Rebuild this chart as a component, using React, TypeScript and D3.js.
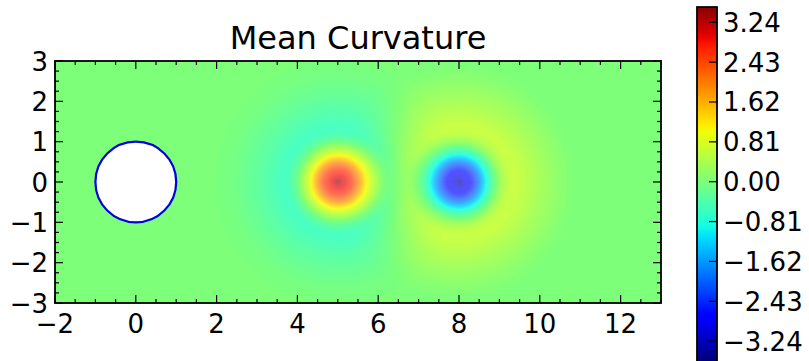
import React, { useMemo } from 'react';
import * as d3 from 'd3';

// ---- data ----
const TITLE = 'Mean Curvature';
const X_DOMAIN = [-2, 13];
const Y_DOMAIN = [-3, 3];
const X_TICKS = [-2, 0, 2, 4, 6, 8, 10, 12];
const Y_TICKS = [-3, -2, -1, 0, 1, 2, 3];
const CBAR_TICKS = [3.24, 2.43, 1.62, 0.81, 0, -0.81, -1.62, -2.43, -3.24];
const CBAR_DOMAIN = [-3.66, 3.55];
const COLOR_RANGE = [-3.6, 3.6];

// two curvature sources (centres) with their radial profiles
const SOURCE_X = [5, 8];
const SOURCE_Y = [0, 0];
const PROFILE_R = [0, 0.1, 0.2, 0.3, 0.4, 0.5, 0.6, 0.7, 0.8, 0.9, 1.0, 1.15, 1.3, 1.5, 1.8, 2.2, 2.6, 3.0];
const PROFILE_POS = [3.5, 3.0, 2.85, 2.65, 2.3, 1.8, 1.3, 0.85, 0.5, 0.2, -0.1, -0.42, -0.58, -0.52, -0.36, -0.2, -0.07, 0];
const PROFILE_NEG = [-3.5, -3.0, -2.85, -2.65, -2.3, -1.8, -1.3, -0.8, -0.4, -0.05, 0.22, 0.5, 0.64, 0.6, 0.45, 0.26, 0.1, 0];

// obstacle (white disc)
const OBSTACLE_X = [0];
const OBSTACLE_Y = [0];
const OBSTACLE_R = [1];

// ---- layout ----
const W = 809;
const H = 361;
const PL = 55, PR = 661, PT = 61, PB = 303;
const CB_X0 = 697, CB_X1 = 717;
const CB_ZERO = 181.7, CB_PX = 49.2;

// jet colormap (matplotlib segment data)
const seg = (pts: number[][], t: number) => {
  for (let i = 1; i < pts.length; i++) {
    if (t <= pts[i][0]) {
      const [x0, y0] = pts[i - 1];
      const [x1, y1] = pts[i];
      return y0 + ((t - x0) / (x1 - x0)) * (y1 - y0);
    }
  }
  return pts[pts.length - 1][1];
};
const RED = [[0, 0], [0.35, 0], [0.66, 1], [0.89, 1], [1, 0.5]];
const GREEN = [[0, 0], [0.125, 0], [0.375, 1], [0.64, 1], [0.91, 0], [1, 0]];
const BLUE = [[0, 0.5], [0.11, 1], [0.34, 1], [0.65, 0], [1, 0]];
const norm = d3.scaleLinear().domain(COLOR_RANGE).range([0, 1]).clamp(true);
const jet = (v: number, wash = 0) => {
  const t = norm(v);
  const f = wash;
  const c = [seg(RED, t), seg(GREEN, t), seg(BLUE, t)].map((x) => Math.round(255 * (x * (1 - f) + f)));
  return `rgb(${c[0]},${c[1]},${c[2]})`;
};

const fmtAxis = (d: number) => (d < 0 ? '\u2212' + Math.abs(d) : String(d));
const fmtBar = (d: number) => (d < 0 ? '\u2212' + Math.abs(d).toFixed(2) : d.toFixed(2));

export default function App() {
  const x = d3.scaleLinear().domain(X_DOMAIN).range([PL, PR]);
  const y = d3.scaleLinear().domain(Y_DOMAIN).range([PB, PT]);
  const cb = d3.scaleLinear().domain([0, 1]).range([CB_ZERO, CB_ZERO - CB_PX]);

  const bands = useMemo(() => {
    const pos = d3.scaleLinear().domain(PROFILE_R).range(PROFILE_POS).clamp(true);
    const neg = d3.scaleLinear().domain(PROFILE_R).range(PROFILE_NEG).clamp(true);
    const dx = 0.05;
    const nx = Math.round((X_DOMAIN[1] - X_DOMAIN[0]) / dx);
    const ny = Math.round((Y_DOMAIN[1] - Y_DOMAIN[0]) / dx);
    const values = new Array(nx * ny);
    for (let j = 0; j < ny; j++) {
      const yy = Y_DOMAIN[1] - (j + 0.5) * dx;
      for (let i = 0; i < nx; i++) {
        const xx = X_DOMAIN[0] + (i + 0.5) * dx;
        const r0 = Math.hypot(xx - SOURCE_X[0], yy - SOURCE_Y[0]);
        const r1 = Math.hypot(xx - SOURCE_X[1], yy - SOURCE_Y[1]);
        values[j * nx + i] = pos(r0) + neg(r1);
      }
    }
    const step = 0.04;
    const thresholds = d3.range(COLOR_RANGE[0] - 0.2, COLOR_RANGE[1] + 0.01, step);
    const contours = d3.contours().size([nx, ny]).thresholds(thresholds)(values);
    const sx = (PR - PL) / nx;
    const sy = (PB - PT) / ny;
    const proj = d3.geoTransform({
      point(px: number, py: number) {
        (this as any).stream.point(PL + px * sx, PT + py * sy);
      },
    });
    const path = d3.geoPath(proj);
    return contours
      .filter((c) => c.coordinates.length > 0)
      .map((c) => {
        const v = c.value + step / 2;
        const wash = 0.32 * Math.min(1, Math.abs(v) / 2.2);
        return { d: path(c as any) || '', fill: jet(v, wash), key: c.value };
      });
  }, []);

  const gradStops = useMemo(() => {
    const n = 80;
    return d3.range(n + 1).map((k) => {
      const v = CBAR_DOMAIN[1] - (k / n) * (CBAR_DOMAIN[1] - CBAR_DOMAIN[0]);
      return { offset: `${(k / n) * 100}%`, color: jet(v) };
    });
  }, []);

  const xMinor = d3.range(X_DOMAIN[0], X_DOMAIN[1] + 0.001, 0.5).filter((v) => !X_TICKS.includes(v));
  const yMinor = d3.range(Y_DOMAIN[0], Y_DOMAIN[1] + 0.001, 0.25).filter((v) => !Y_TICKS.includes(v));
  const font = 'DejaVu Sans, sans-serif';
  const majL = 8, minL = 4;

  return (
    <svg width={W} height={H} style={{ position: 'absolute', left: 0, top: 0, background: '#fff' }}>
      <defs>
        <clipPath id="plotClip">
          <rect x={PL} y={PT} width={PR - PL} height={PB - PT} />
        </clipPath>
        <linearGradient id="cbGrad" x1="0" y1="0" x2="0" y2="1">
          {gradStops.map((s, i) => (
            <stop key={i} offset={s.offset} stopColor={s.color} />
          ))}
        </linearGradient>
      </defs>
      <rect width={W} height={H} fill="#fff" />
      <g clipPath="url(#plotClip)">
        {bands.map((b) => (
          <path key={b.key} d={b.d} fill={b.fill} stroke={b.fill} strokeWidth={0.3} />
        ))}
        {OBSTACLE_X.map((ox, i) => (
          <ellipse
            key={i}
            cx={x(ox)}
            cy={y(OBSTACLE_Y[i])}
            rx={x(ox + OBSTACLE_R[i]) - x(ox)}
            ry={y(OBSTACLE_Y[i]) - y(OBSTACLE_Y[i] + OBSTACLE_R[i])}
            fill="#fff"
            stroke="#0000e0"
            strokeWidth={2.2}
          />
        ))}
      </g>
      {/* ticks */}
      <g stroke="#000" strokeWidth={1.2}>
        {X_TICKS.map((t) => (
          <g key={'xt' + t}>
            <line x1={x(t)} x2={x(t)} y1={PB} y2={PB - majL} />
            <line x1={x(t)} x2={x(t)} y1={PT} y2={PT + majL} />
          </g>
        ))}
        {xMinor.map((t) => (
          <g key={'xm' + t}>
            <line x1={x(t)} x2={x(t)} y1={PB} y2={PB - minL} />
            <line x1={x(t)} x2={x(t)} y1={PT} y2={PT + minL} />
          </g>
        ))}
        {Y_TICKS.map((t) => (
          <g key={'yt' + t}>
            <line x1={PL} x2={PL + majL} y1={y(t)} y2={y(t)} />
            <line x1={PR} x2={PR - majL} y1={y(t)} y2={y(t)} />
          </g>
        ))}
        {yMinor.map((t) => (
          <g key={'ym' + t}>
            <line x1={PL} x2={PL + minL} y1={y(t)} y2={y(t)} />
            <line x1={PR} x2={PR - minL} y1={y(t)} y2={y(t)} />
          </g>
        ))}
      </g>
      <rect x={PL} y={PT} width={PR - PL} height={PB - PT} fill="none" stroke="#000" strokeWidth={1.8} />
      {/* tick labels */}
      <g fontFamily={font} fontSize={26} fill="#000">
        {X_TICKS.map((t) => (
          <text key={'xl' + t} x={x(t)} y={333} textAnchor="middle">
            {fmtAxis(t)}
          </text>
        ))}
        {Y_TICKS.map((t) => (
          <text key={'yl' + t} x={48} y={y(t) + 9.5} textAnchor="end">
            {fmtAxis(t)}
          </text>
        ))}
      </g>
      <text x={(PL + PR) / 2} y={49} textAnchor="middle" fontFamily={font} fontSize={32} fill="#000">
        {TITLE}
      </text>
      {/* colorbar */}
      <rect
        x={CB_X0}
        y={cb(CBAR_DOMAIN[1])}
        width={CB_X1 - CB_X0}
        height={cb(CBAR_DOMAIN[0]) - cb(CBAR_DOMAIN[1])}
        fill="url(#cbGrad)"
        stroke="#000"
        strokeWidth={1.8}
      />
      <g stroke="#000" strokeWidth={1.2}>
        {CBAR_TICKS.map((t) => (
          <line key={'ct' + t} x1={CB_X1} x2={CB_X1 - 8} y1={cb(t)} y2={cb(t)} />
        ))}
      </g>
      <g fontFamily={font} fontSize={26} fill="#000">
        {CBAR_TICKS.map((t) => (
          <text key={'cl' + t} x={723} y={cb(t) + 9.5} textAnchor="start">
            {fmtBar(t)}
          </text>
        ))}
      </g>
    </svg>
  );
}
